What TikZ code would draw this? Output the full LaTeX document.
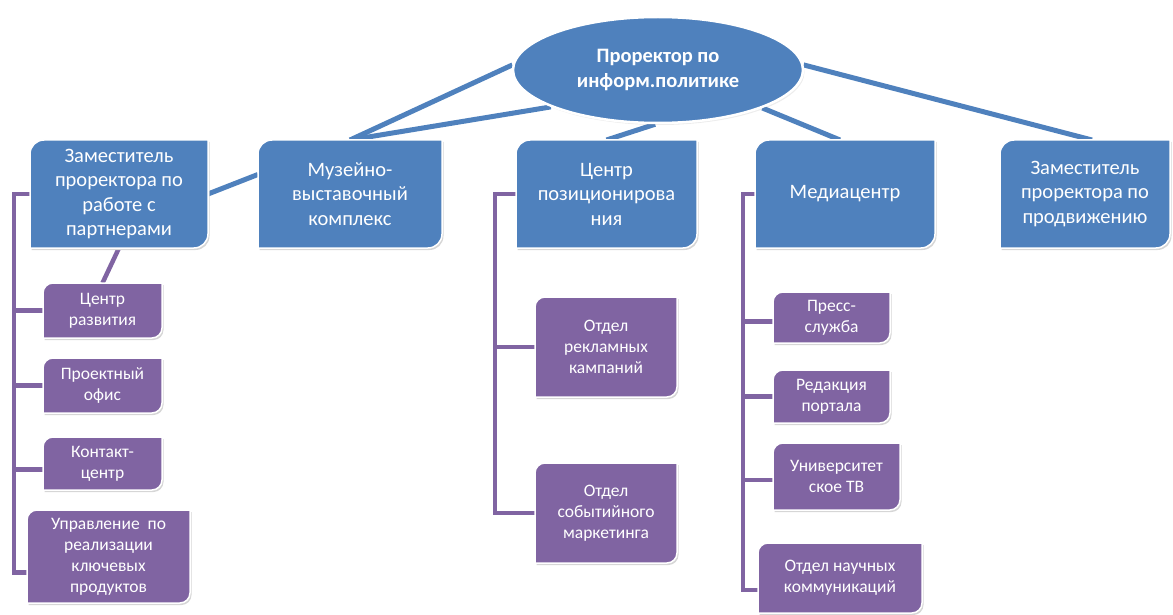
\documentclass[tikz,border=0pt]{standalone}
\usepackage{fontspec}
\setmainfont{Carlito}
\usetikzlibrary{shapes.geometric,shadows}
\pgfdeclarelayer{lines}
\pgfdeclarelayer{shapes}
\pgfsetlayers{lines,shapes,main}
\definecolor{ublue}{HTML}{4F81BD}
\definecolor{upurp}{HTML}{8064A2}
\tikzset{
  bbox/.style={rectangle, inner sep=0pt, outer sep=0pt, text=white, align=center,
    minimum height=108, font=\fontsize{20.5}{24.5}\selectfont},
  pbox/.style={rectangle, inner sep=0pt, outer sep=0pt, text=white, align=center,
    font=\fontsize{17.5}{21}\selectfont},
  bl/.style={ublue, line width=5pt},
  pl/.style={upurp, line width=4.5pt},
}
\newcommand\dpath[4]{([xshift=#3,yshift=#4]#1.south west) -- ([xshift=#3,yshift=#4-#2]#1.north west) arc[start angle=180,end angle=90,radius=#2] -- ([xshift=#3,yshift=#4]#1.north east) -- ([xshift=#3,yshift=#4+#2]#1.south east) arc[start angle=0,end angle=-90,radius=#2] -- cycle}
\newcommand\dshape[3]{%
  \begin{pgfonlayer}{shapes}
    \fill[black!16] \dpath{#1}{#3}{1.5pt}{-2pt};
    \fill[#2, draw=white, line width=1.5pt] \dpath{#1}{#3}{0pt}{0pt};
  \end{pgfonlayer}}
\begin{document}
\begin{tikzpicture}[x=1pt,y=1pt]
\useasboundingbox (0,0) rectangle (1173,-615);
% top ellipse
\node[ellipse, minimum width=290, minimum height=106, inner sep=0pt, fill=ublue, draw=white,
  line width=2.5pt, text=white, align=center, font=\bfseries\fontsize{20.5}{25}\selectfont,
  drop shadow={opacity=0.15, shadow xshift=1.5pt, shadow yshift=-2pt}] (ell) at (658,-70)
  {Проректор по\\информ.политике};
% blue boxes
\node[bbox, minimum width=178] (zam1) at (119,-194) {Заместитель\\проректора по\\работе с\\партнерами};
\node[bbox, minimum width=184] (muz) at (350,-194) {Музейно-\\выставочный\\комплекс};
\node[bbox, minimum width=181] (pos) at (606.5,-194) {Центр\\позиционирова\\ния};
\node[bbox, minimum width=180] (med) at (845,-194) {Медиацентр};
\node[bbox, minimum width=170] (zam2) at (1085,-194) {Заместитель\\проректора по\\продвижению};
\foreach \n in {zam1,muz,pos,med,zam2} {\dshape{\n}{ublue}{14pt}}
% purple boxes
\node[pbox, minimum width=119, minimum height=55] (cr) at (102.5,-310.5) {Центр\\развития};
\node[pbox, minimum width=119, minimum height=55] (po) at (102.5,-385.5) {Проектный\\офис};
\node[pbox, minimum width=119, minimum height=53] (kc) at (102.5,-463.5) {Контакт-\\центр};
\node[pbox, minimum width=163, minimum height=93] (upr) at (108.5,-556.5) {Управление~ по\\реализации\\ключевых\\продуктов};
\node[pbox, minimum width=142, minimum height=100] (ork) at (606,-347) {Отдел\\рекламных\\кампаний};
\node[pbox, minimum width=142, minimum height=100] (osm) at (606,-513) {Отдел\\событийного\\маркетинга};
\node[pbox, minimum width=117, minimum height=51] (ps) at (831.5,-317.5) {Пресс-\\служба};
\node[pbox, minimum width=117, minimum height=53] (rp) at (831.5,-396.5) {Редакция\\портала};
\node[pbox, minimum width=127, minimum height=67] (ut) at (836.5,-476.5) {Университет\\ское ТВ};
\node[pbox, minimum width=164, minimum height=70] (onk) at (840,-578) {Отдел научных\\коммуникаций};
\foreach \n in {cr,po,kc,upr,ork,osm,ps,rp,ut,onk} {\dshape{\n}{upurp}{10pt}}
% connectors
\coordinate (L) at (14,0);
\coordinate (M) at (495,0);
\coordinate (R) at (743,0);
\coordinate (ul) at ([yshift=-16]upr.west);
\coordinate (onkl) at ([yshift=-12]onk.west);
\begin{pgfonlayer}{lines}
  \draw[bl] (ell.178) -- (muz.north);
  \draw[bl] (ell.199) -- (muz.north);
  \draw[bl] (ell.267) -- (pos.north);
  \draw[bl] (ell.340) -- ([xshift=-5]med.north);
  \draw[bl] (ell.2) -- ([xshift=7]zam2.north);
  \draw[bl] (zam1.east) -- (muz.168);
  \draw[pl] (zam1.south) -- (cr.north);
  \draw[pl] (zam1.west) -| (L |- ul) -- (ul);
  \draw[pl] (cr.west) -- (cr.west -| L);
  \draw[pl] (po.west) -- (po.west -| L);
  \draw[pl] ([yshift=-6]kc.west) -- ([yshift=-6]kc.west -| L);
  \draw[pl] (pos.west) -| (M |- osm.west) -- (osm.west);
  \draw[pl] (ork.west) -- (ork.west -| M);
  \draw[pl] (med.west) -| (R |- onkl) -- (onkl);
  \draw[pl] ([yshift=-4]ps.west) -- ([yshift=-4]ps.west -| R);
  \draw[pl] (rp.west) -- (rp.west -| R);
  \draw[pl] ([yshift=-3.5]ut.west) -- ([yshift=-3.5]ut.west -| R);
\end{pgfonlayer}
\end{tikzpicture}
\end{document}
